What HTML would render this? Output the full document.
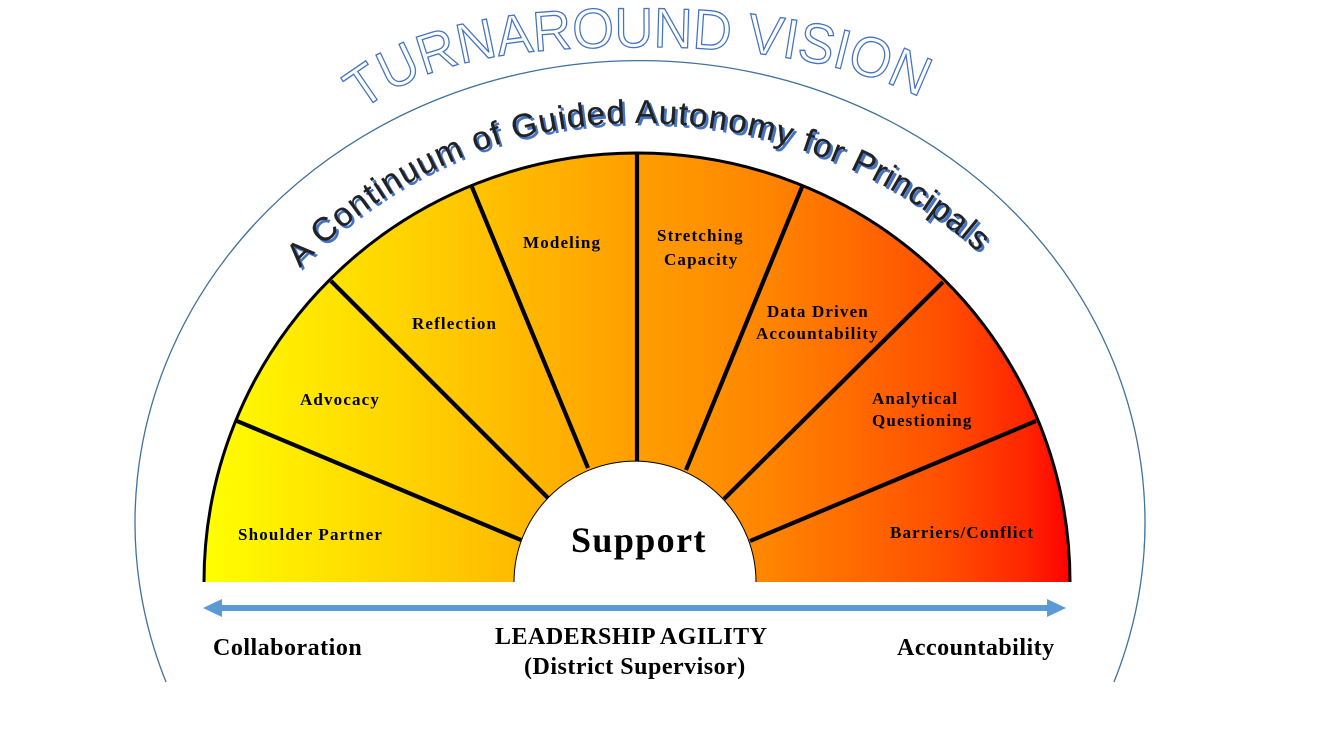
<!DOCTYPE html>
<html><head><meta charset="utf-8"><style>
html,body{margin:0;padding:0;background:#fff}
svg{display:block}
.l{font-family:"Liberation Serif",serif;font-weight:bold;font-size:17px;letter-spacing:1.15px;fill:#000}
.b{font-family:"Liberation Serif",serif;font-weight:bold;font-size:24px;letter-spacing:.5px;fill:#000}
.t{font-family:"Liberation Sans",sans-serif;font-size:56px;fill:#fff;stroke:#4472c4;stroke-width:1.3}
.s{font-family:"Liberation Sans",sans-serif;font-size:33px}
</style></head><body>
<svg width="1333" height="750" viewBox="0 0 1333 750" xmlns="http://www.w3.org/2000/svg">
<defs>
<linearGradient id="g" gradientUnits="userSpaceOnUse" x1="204" y1="0" x2="1070" y2="0">
<stop offset="0" stop-color="#ffff00"/>
<stop offset=".33" stop-color="#ffc000"/>
<stop offset=".5" stop-color="#ff9e00"/>
<stop offset=".65" stop-color="#ff8500"/>
<stop offset=".85" stop-color="#ff5000"/>
<stop offset=".95" stop-color="#ff2500"/>
<stop offset="1" stop-color="#ff0000"/>
</linearGradient>
<path id="pt" d="M362 111 C430 55 540 47 640 47 C740 47 850 60 925 100" fill="none"/>
<path id="ps" d="M300 268 A465 465 0 0 1 638 123 A513 513 0 0 1 988 261" fill="none"/>
</defs>
<path d="M166 682 A505 462 0 1 1 1114 682" fill="none" stroke="#41719c" stroke-width="1.3"/>
<text class="t"><textPath href="#pt" textLength="578" lengthAdjust="spacingAndGlyphs">TURNAROUND VISION</textPath></text>
<text class="s" fill="#4472c4" stroke="#4472c4" stroke-width=".25" transform="translate(2.5,2.5)"><textPath href="#ps" textLength="750">A Continuum of Guided Autonomy for Principals</textPath></text>
<text class="s" fill="#222" stroke="#222" stroke-width=".25"><textPath href="#ps" textLength="750">A Continuum of Guided Autonomy for Principals</textPath></text>
<path d="M204 582 A433 429 0 0 1 1070 582 Z" fill="url(#g)"/>
<path d="M204 582 A433 429 0 0 1 1070 582" fill="none" stroke="#000" stroke-width="3"/>
<g stroke="#000" stroke-width="4.2" fill="none">
<path d="M237 421L521 540M331 281L548 498M472 187L588 468M637 153L637 461M802 187L686 470M943 282L724 499M1036 421L750 541"/>
</g>
<path d="M514 582 A121 121 0 0 1 756 582 Z" fill="#fff"/>
<path d="M514 582 A121 121 0 0 1 756 582" fill="none" stroke="#000" stroke-width="1"/>
<rect x="218" y="605" width="834" height="6" fill="#5b9bd5"/>
<path d="M203 608L222 599V617Z M1066 608L1047 599V617Z" fill="#5b9bd5"/>
<text class="l" x="238" y="540">Shoulder Partner</text>
<text class="l" x="300" y="405">Advocacy</text>
<text class="l" x="412" y="329">Reflection</text>
<text class="l" x="523" y="248">Modeling</text>
<text class="l" x="657" y="241">Stretching</text>
<text class="l" x="664" y="265">Capacity</text>
<text class="l" x="767" y="317">Data Driven</text>
<text class="l" x="756" y="339">Accountability</text>
<text class="l" x="872" y="404">Analytical</text>
<text class="l" x="872" y="426">Questioning</text>
<text class="l" x="890" y="538">Barriers/Conflict</text>
<text x="571" y="552" style="font-family:'Liberation Serif',serif;font-weight:bold;font-size:36px;letter-spacing:1.4px">Support</text>
<text class="b" x="213" y="655">Collaboration</text>
<text class="b" x="495" y="644">LEADERSHIP AGILITY</text>
<text class="b" x="524" y="674">(District Supervisor)</text>
<text class="b" x="897" y="655">Accountability</text>
</svg>
</body></html>
